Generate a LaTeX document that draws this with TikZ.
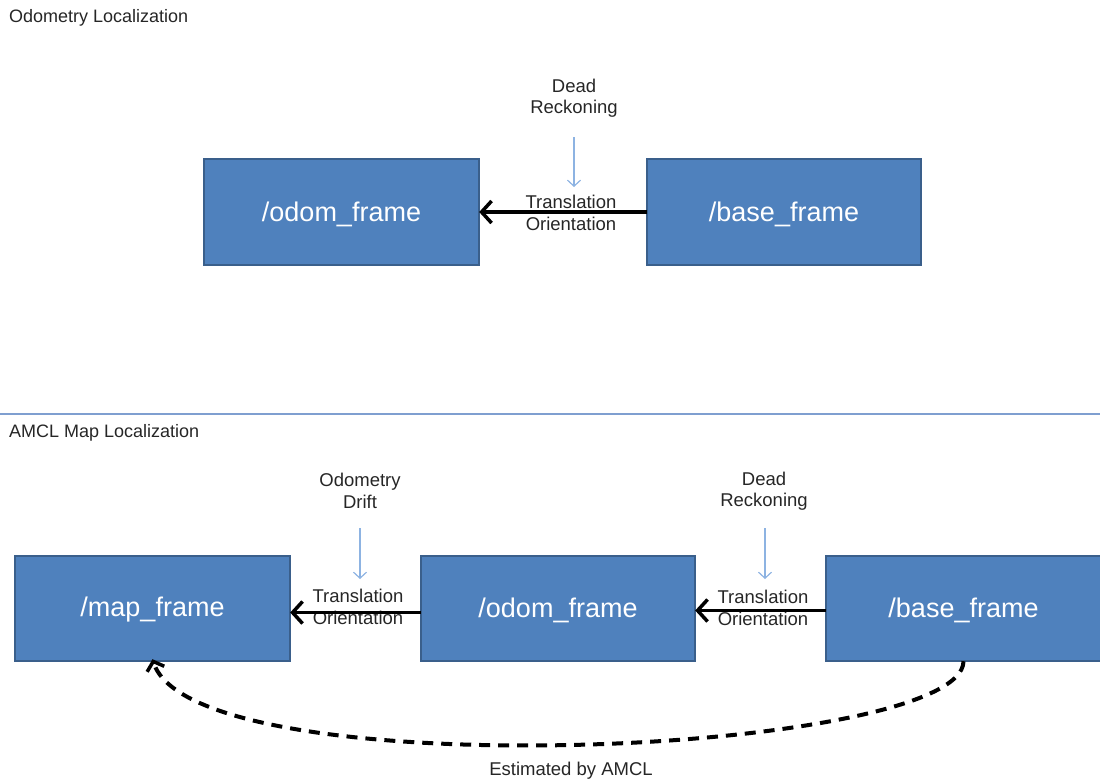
\documentclass[tikz,border=0pt]{standalone}
\usepackage{fontspec}
\setmainfont{Liberation Sans}
\usetikzlibrary{arrows.meta}
\definecolor{boxfill}{HTML}{4F81BD}
\definecolor{boxedge}{HTML}{3A5F8B}
\definecolor{hint}{HTML}{8DB3E2}
\definecolor{rule}{HTML}{7F9FD0}
\definecolor{ink}{HTML}{262626}
\begin{document}
\begin{tikzpicture}[x=1pt,y=-1pt,
  frame/.style={draw=boxedge,line width=2pt,fill=boxfill},
  label/.style={inner sep=0pt,text=white,font=\fontsize{27}{30}\selectfont},
  heading/.style={anchor=west,text=ink,inner sep=0pt,font=\fontsize{18}{21}\selectfont},
  note/.style={align=center,text=ink,inner sep=0pt,font=\fontsize{18.5}{21.5}\selectfont},
  link/.style={line width=3.5pt,-{Straight Barb[length=10pt,width=22pt,line width=3.5pt]}},
  cue/.style={draw=hint,line width=1.2pt,-{Straight Barb[length=6pt,width=13pt,line width=1.2pt]}},
  estimate/.style={line width=4pt,dash pattern=on 11pt off 8pt,
    -{Straight Barb[length=8pt,width=18pt,line width=3.5pt]}}]
\useasboundingbox (0,0) rectangle (1100,782);

% --- odometry localization ---
\node[heading] (titleA) at (9,18) {Odometry Localization};
\path[frame] (204,159) rectangle (479,265);
\path[frame] (647,159) rectangle (921,265);
\node[label,minimum width=275pt,minimum height=106pt] (odomA) at (341.5,212) {};
\node[label,minimum width=274pt,minimum height=106pt] (baseA) at (784,212) {};
\node[label] at (341.5,214) {/odom\_frame};
\node[label] at (784,214) {/base\_frame};
\node[note] (tfA) at (571,213) {Translation\\Orientation};
\node[note] (drA) at (574,98) {Dead\\Reckoning};
\coordinate (cueAs) at (574,137);
\coordinate (cueAe) at (574,187);
\draw[link] (baseA.west) -- (odomA.east);
\draw[cue] (cueAs) -- (cueAe);

% --- section rule ---
\coordinate (ruleL) at (0,414);
\coordinate (ruleR) at (1100,414);
\draw[rule,line width=1.5pt] (ruleL) -- (ruleR);

% --- AMCL map localization ---
\node[heading] (titleB) at (9,433) {AMCL Map Localization};
\path[frame] (15,556) rectangle (290,661);
\path[frame] (421,556) rectangle (695,661);
\path[frame] (826,556) rectangle (1101,661);
\node[label,minimum width=275pt,minimum height=105pt] (mapB) at (152.5,608.5) {};
\node[label,minimum width=274pt,minimum height=105pt] (odomB) at (558,608.5) {};
\node[label,minimum width=275pt,minimum height=105pt] (baseB) at (963.5,608.5) {};
\node[label] at (152.5,610) {/map\_frame};
\node[label] at (558,610) {/odom\_frame};
\node[label] at (963.5,610) {/base\_frame};

\node[note] (tfB) at (358,607) {Translation\\Orientation};
\node[note] (driftB) at (360,491) {Odometry\\Drift};
\node[note] (tfC) at (763,608) {Translation\\Orientation};
\node[note] (drC) at (764,491) {Dead\\Reckoning};
\coordinate (cueBs) at (360,528);
\coordinate (cueBe) at (360,579);
\coordinate (cueCs) at (765,528);
\coordinate (cueCe) at (765,579);

\draw[link] ([yshift=-4pt]odomB.west) -- ([yshift=-4pt]mapB.east);
\draw[link] ([yshift=-2pt]baseB.west) -- ([yshift=-2pt]odomB.east);
\draw[cue] (cueBs) -- (cueBe);
\draw[cue] (cueCs) -- (cueCe);

\draw[estimate] (baseB.south) .. controls (963,755) and (195,790) .. ([yshift=2pt]mapB.south);
\node[note] (amcl) at (571,771) {Estimated by AMCL};
\end{tikzpicture}
\end{document}
